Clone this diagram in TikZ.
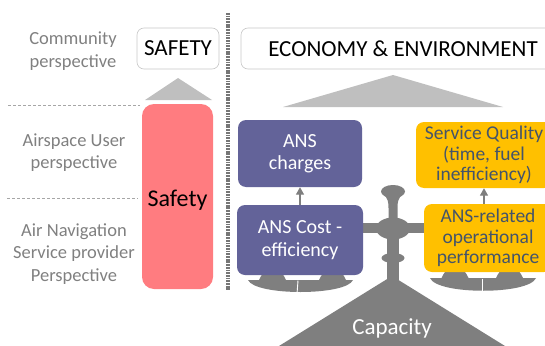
\documentclass[tikz,border=0pt]{standalone}
\usepackage{fontspec}
\setmainfont{Carlito}
\usetikzlibrary{arrows.meta}

\definecolor{labelgray}{RGB}{128,128,128}
\definecolor{scalegray}{RGB}{127,127,127}
\definecolor{trigray}{RGB}{191,191,191}
\definecolor{purplebox}{RGB}{99,99,153}
\definecolor{yellowbox}{RGB}{255,192,0}
\definecolor{slatetext}{RGB}{68,84,106}
\definecolor{redbox}{RGB}{255,124,128}
\definecolor{sepgray}{RGB}{118,118,118}
\definecolor{dashgray}{RGB}{166,166,166}
\definecolor{headborder}{RGB}{200,200,200}

\begin{document}
\begin{tikzpicture}[x=1pt,y=-1pt,
  lbl/.style={text=labelgray, align=center, inner sep=0pt,
    font=\fontsize{18.5}{22.5}\selectfont},
  headbox/.style={draw=headborder, line width=0.6pt, fill=white,
    rounded corners=7pt, inner sep=0pt,
    font=\fontsize{23}{26}\selectfont},
  pbox/.style={fill=purplebox, rounded corners=8pt, inner sep=0pt,
    text=white, align=center, font=\fontsize{20}{22.5}\selectfont},
  ybox/.style={fill=yellowbox, rounded corners=8pt, inner sep=0pt,
    text=slatetext, align=center, font=\fontsize{19.5}{20.5}\selectfont},
  arr/.style={draw=scalegray, line width=1.4pt,
    -{Triangle[width=8pt,length=7.5pt]}},
  perspline/.style={draw=dashgray, line width=0.8pt, dash pattern=on 3pt off 2pt},
  scalepart/.style={fill=scalegray},
  split/.style={draw=white, line width=0.9pt}
]
\useasboundingbox (0,0) rectangle (545,345);
\clip (0,0) rectangle (545,345);

% perspective labels
\node[lbl] (comm) at (73,51) {Community\\perspective};
\node[lbl] (user) at (74,152.5) {Airspace User\\perspective};
\node[lbl] (ansp) at (74,254) {Air Navigation\\Service provider\\Perspective};

% dashed separators between perspectives
\draw[perspline] (8,105) -- (140,105);
\draw[perspline] (7,198) -- (138,198);

% vertical separator
\draw[draw=sepgray, line width=3.5pt, dash pattern=on 1.8pt off 0.9pt] (228,13) -- (228,290);

% headline boxes
\node[headbox, minimum width=82pt, minimum height=41pt] (safetyhead) at (178,48.5) {SAFETY};
\node[headbox, minimum width=324pt, minimum height=41pt] (econ) at (403,48.5) {ECONOMY \& ENVIRONMENT};

% pointers to the headlines
\fill[trigray] (178,78) -- (212,100) -- (145,100) -- cycle;
\fill[trigray] (393,75) -- (503,107) -- (283,107) -- cycle;

% safety column
\node[fill=redbox, rounded corners=12pt, inner sep=0pt,
  minimum width=71pt, minimum height=185pt] (safety) at (177.5,196.5) {};
\node[inner sep=0pt, font=\fontsize{24}{26}\selectfont] (safetytext) at (177.5,200) {Safety};

% balance scale
\fill[scalepart] (392,276) -- (505,346) -- (279,346) -- cycle;
\fill[scalepart] (387,226) rectangle (398.5,286);
\fill[scalepart] (393,258) ellipse [x radius=11.5, y radius=5];
\fill[scalepart] (360,223) rectangle (426,233);
\fill[scalepart] (393,228.5) ellipse [x radius=17, y radius=11];
\fill[scalepart] (383,194) .. controls (388,198) and (388.5,202) .. (388.5,208)
  -- (388.5,225) -- (397.5,225) -- (397.5,208)
  .. controls (397.5,202) and (398,198) .. (403,194) -- cycle;
\fill[scalepart] (393,191.5) ellipse [x radius=12, y radius=6.5];

% left pan
\fill[scalepart] (248,280) .. controls (255,296) and (346,296) .. (353,280) -- cycle;
\foreach \c in {272.5,332.5}
  \fill[scalepart] (\c-14,281) .. controls (\c-10,273) .. (\c-5,272)
    -- (\c+5,272) .. controls (\c+10,273) .. (\c+14,281) -- cycle;
\draw[split] (298,280.5) -- (297,294);

% right pan
\fill[scalepart] (430,278) .. controls (437,295) and (529,295) .. (536,278) -- cycle;
\foreach \c in {455,509.5}
  \fill[scalepart] (\c-14,279) .. controls (\c-10,271) .. (\c-5,270)
    -- (\c+5,270) .. controls (\c+10,271) .. (\c+14,279) -- cycle;
\draw[split] (482,278.5) -- (482,294);

\node[text=white, inner sep=0pt, font=\fontsize{23}{26}\selectfont] (capacity) at (392,328) {Capacity};

% cost side
\node[pbox, minimum width=124pt, minimum height=67pt] (charges) at (300,153.5) {ANS\\charges};
\node[pbox, minimum width=126pt, minimum height=70pt] (cost) at (300,240) {ANS Cost -\\efficiency};

% quality side
\node[ybox, minimum width=136pt, minimum height=66pt] (quality) at (484,155) {Service Quality\\(time, fuel\\inefficiency)};
\node[ybox, minimum width=128pt, minimum height=68pt] (perf) at (488,238) {ANS-related\\operational\\performance};

% influence arrows
\draw[arr] (cost.north) -- (charges.south);
\draw[arr] (perf.north -| quality.south) -- (quality.south);
\end{tikzpicture}
\end{document}
